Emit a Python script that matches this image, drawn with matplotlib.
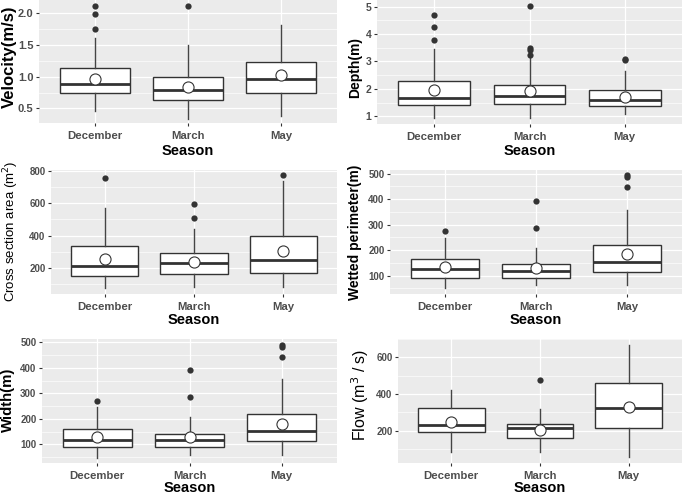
import matplotlib
matplotlib.use("Agg")
import matplotlib.pyplot as plt
from matplotlib.ticker import AutoMinorLocator, FormatStrFormatter

plt.rcParams["font.family"] = ["Liberation Sans", "DejaVu Sans"]

seasons = ["December", "March", "May"]

# five-number summaries per season: [lower whisker, Q1, median, Q3, upper whisker]
velocity_box = [[0.46, 0.74, 0.88, 1.13, 1.61], [0.34, 0.63, 0.79, 1.00, 1.50], [0.38, 0.75, 0.97, 1.23, 1.81]]
velocity_mean = [0.96, 0.83, 1.03]
velocity_out = [[1.75, 1.99, 2.12], [2.12], []]

depth_box = [[0.95, 1.41, 1.68, 2.29, 3.45], [0.93, 1.44, 1.74, 2.14, 3.20], [1.07, 1.38, 1.60, 1.96, 2.66]]
depth_mean = [1.96, 1.93, 1.72]
depth_out = [[3.79, 4.27, 4.70], [3.24, 3.43, 3.49, 5.03], [3.05, 3.10]]

area_box = [[76, 148, 211, 335, 573], [82, 161, 231, 293, 439], [82, 165, 248, 399, 737]]
area_mean = [254, 234, 306]
area_out = [[760], [507, 595], [775]]

perimeter_box = [[53, 92, 125, 164, 249], [62, 90, 118, 145, 207], [62, 116, 152, 220, 357]]
perimeter_mean = [133, 129, 184]
perimeter_out = [[275], [286, 393], [446, 486, 495]]

width_box = [[48, 89, 119, 160, 245], [57, 88, 117, 142, 207], [57, 112, 151, 219, 355]]
width_mean = [128, 127, 180]
width_out = [[271], [285, 391], [441, 480, 490]]

flow_box = [[86, 191, 231, 322, 420], [86, 158, 216, 236, 318], [55, 216, 325, 459, 667]]
flow_mean = [249, 204, 330]
flow_out = [[], [476], []]

W, H = 685, 495
fig = plt.figure(figsize=(W / 100, H / 100), dpi=100)


def px_rect(left, right, top, bottom):
    return [left / W, 1 - bottom / H, (right - left) / W, (bottom - top) / H]


def draw_panel(rect, box, means, outliers, yticks, ylim, fmt, ytick_size):
    ax = fig.add_axes(px_rect(*rect))
    stats = []
    for s, b, m, o in zip(seasons, box, means, outliers):
        stats.append(dict(label=s, whislo=b[0], q1=b[1], med=b[2], q3=b[3], whishi=b[4], mean=m, fliers=o))
    ax.bxp(stats, positions=[1, 2, 3], widths=0.75, showmeans=True, showcaps=False, patch_artist=True,
           boxprops=dict(facecolor="white", edgecolor="#333333", linewidth=1.0),
           medianprops=dict(color="#333333", linewidth=2.0),
           whiskerprops=dict(color="#444444", linewidth=1.0),
           flierprops=dict(marker="o", markerfacecolor="#333333", markeredgecolor="none", markersize=4.5),
           meanprops=dict(marker="o", markerfacecolor="white", markeredgecolor="#333333",
                          markersize=8, markeredgewidth=0.8, zorder=5))
    ax.set_xlim(0.4, 3.6)
    ax.set_ylim(*ylim)
    ax.set_yticks(yticks)
    ax.yaxis.set_major_formatter(FormatStrFormatter(fmt))
    ax.yaxis.set_minor_locator(AutoMinorLocator(2))
    ax.set_facecolor("#EBEBEB")
    ax.set_axisbelow(True)
    ax.grid(which="major", color="white", linewidth=0.9)
    ax.grid(which="minor", axis="y", color="white", linewidth=0.45)
    for sp in ax.spines.values():
        sp.set_visible(False)
    ax.tick_params(which="major", length=2.5, width=0.8, color="#333333")
    ax.tick_params(which="minor", length=0)
    ax.tick_params(axis="x", labelsize=8.2, labelcolor="#4D4D4D", pad=3)
    ax.tick_params(axis="y", labelsize=ytick_size, labelcolor="#4D4D4D", pad=1.5)
    for t in ax.get_xticklabels() + ax.get_yticklabels():
        t.set_fontweight("bold")
    return ax


def label(x, y, text, size, weight="bold", rot=0):
    fig.text(x / W, 1 - y / H, text, fontsize=size, fontweight=weight, rotation=rot,
             ha="center", va="center", color="black")


draw_panel((39, 337, 0, 123), velocity_box, velocity_mean, velocity_out,
           [0.5, 1.0, 1.5, 2.0], (0.27, 2.21), "%.1f", 8)
label(9, 57, "Velocity(m/s)", 12, rot=90)
label(188, 151, "Season", 10.5)

draw_panel((377, 682, 0, 124), depth_box, depth_mean, depth_out,
           [1, 2, 3, 4, 5], (0.72, 5.24), "%d", 7.5)
label(355, 67, "Depth(m)", 10, rot=90)
label(530, 151, "Season", 10.5)

draw_panel((51, 337, 170, 294), area_box, area_mean, area_out,
           [200, 400, 600, 800], (36, 808), "%d", 7)
label(11, 231, "Cross section area (m$^2$)", 9.5, weight="normal", rot=90)
label(194, 320, "Season", 10.5)

draw_panel((390, 682, 170, 294), perimeter_box, perimeter_mean, perimeter_out,
           [100, 200, 300, 400, 500], (28, 514), "%d", 7)
label(355, 232, "Wetted perimeter(m)", 10, rot=90)
label(536, 320, "Season", 10.5)

draw_panel((42, 337, 339, 463), width_box, width_mean, width_out,
           [100, 200, 300, 400, 500], (27, 513), "%d", 7)
label(8, 400, "Width(m)", 10.8, rot=90)
label(190, 488, "Season", 10.5)

draw_panel((398, 682, 339, 463), flow_box, flow_mean, flow_out,
           [200, 400, 600], (24, 700), "%d", 7)
label(360, 395, "Flow (m$^3$ / s)", 11.5, weight="normal", rot=90)
label(540, 488, "Season", 10.5)

fig.savefig("out.png", dpi=100)
